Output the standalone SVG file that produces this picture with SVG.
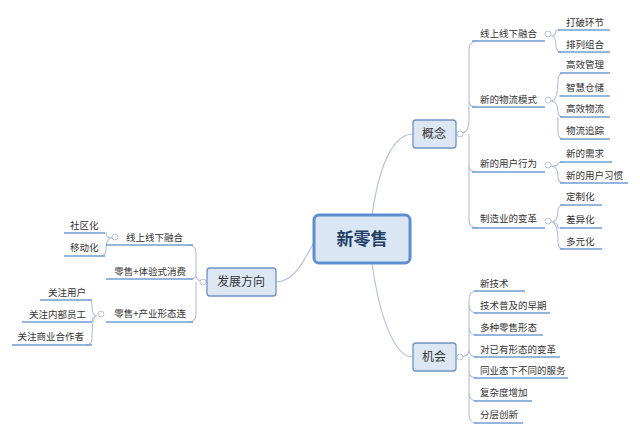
<svg xmlns="http://www.w3.org/2000/svg" width="640" height="435" viewBox="0 0 640 435">
<style>
text{font-family:"Noto Sans CJK SC","Noto Sans",sans-serif;font-size:9.5px;fill:#333}
.u{stroke:#6f9dd3;stroke-width:1.5;fill:none}
.c{stroke:#b7c3dc;stroke-width:1.2;fill:none}
.b{fill:#dde7f4;stroke:#6e92c4;stroke-width:1.3}
.k{fill:#fff;stroke:#aab6cc;stroke-width:0.8}
.t{font-size:12px;fill:#333}
</style>
<rect width="640" height="435" fill="#fff"/>
<g id="connectors">
<path class="c" d="M372 215 C380 160 395 134 413 134"/>
<path class="c" d="M372 263 C380 320 395 357 413 357"/>
<path class="c" d="M314 242 C300 270 290 282 276 282"/>
<path class="c" d="M456 134 C466 134 469 130 469 120 L469 50 Q469 41 478 41 M469 120 L469 100 Q469 107 476 107 M469 134 L469 220 Q469 228 478 228 M469 140 L469 165 Q469 172 476 172"/>
<path class="c" d="M456 357 C466 357 469 355 469 350 L469 299 Q469 291 477 291 M469 305 Q469 313 477 313 M469 327 Q469 335 477 335 M469 350 Q469 357 477 357 M469 357 L469 415 Q469 423 477 423 M469 371 Q469 378 477 378 M469 393 Q469 401 477 401"/>
<path class="c" d="M207 282 C199 282 196 280 196 275 L196 253 Q196 245 188 245 M196 275 Q196 279 190 279 M196 282 L196 314 Q196 322 188 322"/>
<path class="c" d="M551 36 Q556 36 556 30 Q556 30 560 30 M551 36 Q556 36 556 46 Q556 52 562 52"/>
<path class="c" d="M551 101 Q558 101 558 80 Q558 73 564 73 M558 96 Q558 96 563 96 M551 101 Q558 101 558 112 Q558 117 564 117 M558 117 L558 133 Q558 139 564 139"/>
<path class="c" d="M551 166 Q558 166 558 164 Q558 162 563 162 M551 166 Q558 166 558 177 Q558 183 564 183"/>
<path class="c" d="M551 222 Q558 222 558 211 Q558 205 564 205 M551 222 Q558 222 558 228 L563 228 M551 222 Q558 222 558 243 Q558 249 564 249"/>
<path class="c" d="M112 238 Q106 238 106 233 L104 233 M112 238 Q106 238 106 250 Q106 256 100 256"/>
<path class="c" d="M97 316 Q92 316 92 306 Q92 300 88 300 M97 316 Q92 316 92 322 M97 316 Q92 316 92 338 Q92 345 86 345"/>
</g>
<g id="center"><rect x="314" y="215" width="96" height="48" rx="5" fill="#dbe6f5" stroke="#5b8fd0" stroke-width="3"/><text x="362" y="245" text-anchor="middle" style="font-size:17px;font-weight:bold;fill:#1f3f66">新零售</text></g>
<g id="gainian"><rect class="b" x="413" y="120" width="43" height="28" rx="3"/><text class="t" x="434" y="138" text-anchor="middle">概念</text><circle class="k" cx="460" cy="134" r="3"/></g>
<g id="jihui"><rect class="b" x="413" y="343" width="43" height="28" rx="3"/><text class="t" x="434" y="361" text-anchor="middle">机会</text><circle class="k" cx="460" cy="357" r="3"/></g>
<g id="fazhan"><rect class="b" x="207" y="268" width="69" height="28" rx="3"/><text class="t" x="241" y="286" text-anchor="middle">发展方向</text><circle class="k" cx="203" cy="282" r="3"/></g>
<g id="gn1"><text x="480" y="37">线上线下融合</text><line class="u" x1="472" y1="41" x2="545" y2="41"/><circle class="k" cx="548" cy="34" r="3"/></g>
<g id="gn1a"><text x="566" y="26">打破环节</text><line class="u" x1="558" y1="30" x2="610" y2="30"/></g>
<g id="gn1b"><text x="566" y="48">排列组合</text><line class="u" x1="558" y1="52" x2="610" y2="52"/></g>
<g id="gn2"><text x="480" y="103">新的物流模式</text><line class="u" x1="472" y1="107" x2="545" y2="107"/><circle class="k" cx="548" cy="100" r="3"/></g>
<g id="gn2a"><text x="566" y="68">高效管理</text><line class="u" x1="560" y1="73" x2="610" y2="73"/></g>
<g id="gn2b"><text x="566" y="91">智慧仓储</text><line class="u" x1="560" y1="96" x2="610" y2="96"/></g>
<g id="gn2c"><text x="566" y="112">高效物流</text><line class="u" x1="560" y1="117" x2="610" y2="117"/></g>
<g id="gn2d"><text x="566" y="134">物流追踪</text><line class="u" x1="560" y1="139" x2="610" y2="139"/></g>
<g id="gn3"><text x="480" y="167">新的用户行为</text><line class="u" x1="472" y1="172" x2="545" y2="172"/><circle class="k" cx="548" cy="165" r="3"/></g>
<g id="gn3a"><text x="566" y="157">新的需求</text><line class="u" x1="560" y1="162" x2="612" y2="162"/></g>
<g id="gn3b"><text x="566" y="179">新的用户习惯</text><line class="u" x1="560" y1="183" x2="628" y2="183"/></g>
<g id="gn4"><text x="480" y="222">制造业的变革</text><line class="u" x1="472" y1="228" x2="545" y2="228"/><circle class="k" cx="548" cy="221" r="3"/></g>
<g id="gn4a"><text x="566" y="200">定制化</text><line class="u" x1="560" y1="205" x2="602" y2="205"/></g>
<g id="gn4b"><text x="566" y="223">差异化</text><line class="u" x1="560" y1="228" x2="602" y2="228"/></g>
<g id="gn4c"><text x="566" y="245">多元化</text><line class="u" x1="560" y1="249" x2="602" y2="249"/></g>
<g id="jh1"><text x="480" y="287">新技术</text><line class="u" x1="474" y1="291" x2="525" y2="291"/></g>
<g id="jh2"><text x="480" y="309">技术普及的早期</text><line class="u" x1="474" y1="313" x2="550" y2="313"/></g>
<g id="jh3"><text x="480" y="331">多种零售形态</text><line class="u" x1="474" y1="335" x2="543" y2="335"/></g>
<g id="jh4"><text x="480" y="353">对已有形态的变革</text><line class="u" x1="474" y1="357" x2="560" y2="357"/></g>
<g id="jh5"><text x="480" y="374">同业态下不同的服务</text><line class="u" x1="474" y1="378" x2="568" y2="378"/></g>
<g id="jh6"><text x="480" y="396">复杂度增加</text><line class="u" x1="474" y1="401" x2="532" y2="401"/></g>
<g id="jh7"><text x="480" y="418">分层创新</text><line class="u" x1="474" y1="423" x2="523" y2="423"/></g>
<g id="fz1"><text x="183" y="241" text-anchor="end">线上线下融合</text><line class="u" x1="106" y1="245" x2="193" y2="245"/><circle class="k" cx="115" cy="237" r="3"/></g>
<g id="fz1a"><text x="70" y="229">社区化</text><line class="u" x1="64" y1="233" x2="105" y2="233"/></g>
<g id="fz1b"><text x="70" y="251">移动化</text><line class="u" x1="64" y1="256" x2="105" y2="256"/></g>
<g id="fz2"><text x="186" y="275" text-anchor="end">零售+体验式消费</text><line class="u" x1="106" y1="279" x2="193" y2="279"/></g>
<g id="fz3"><text x="186" y="317" text-anchor="end">零售+产业形态连</text><line class="u" x1="106" y1="322" x2="193" y2="322"/><circle class="k" cx="101" cy="314" r="3"/></g>
<g id="fz3a"><text x="86" y="296" text-anchor="end">关注用户</text><line class="u" x1="40" y1="300" x2="92" y2="300"/></g>
<g id="fz3b"><text x="86" y="318" text-anchor="end">关注内部员工</text><line class="u" x1="22" y1="322" x2="92" y2="322"/></g>
<g id="fz3c"><text x="84" y="340" text-anchor="end">关注商业合作者</text><line class="u" x1="12" y1="345" x2="92" y2="345"/></g>
</svg>
